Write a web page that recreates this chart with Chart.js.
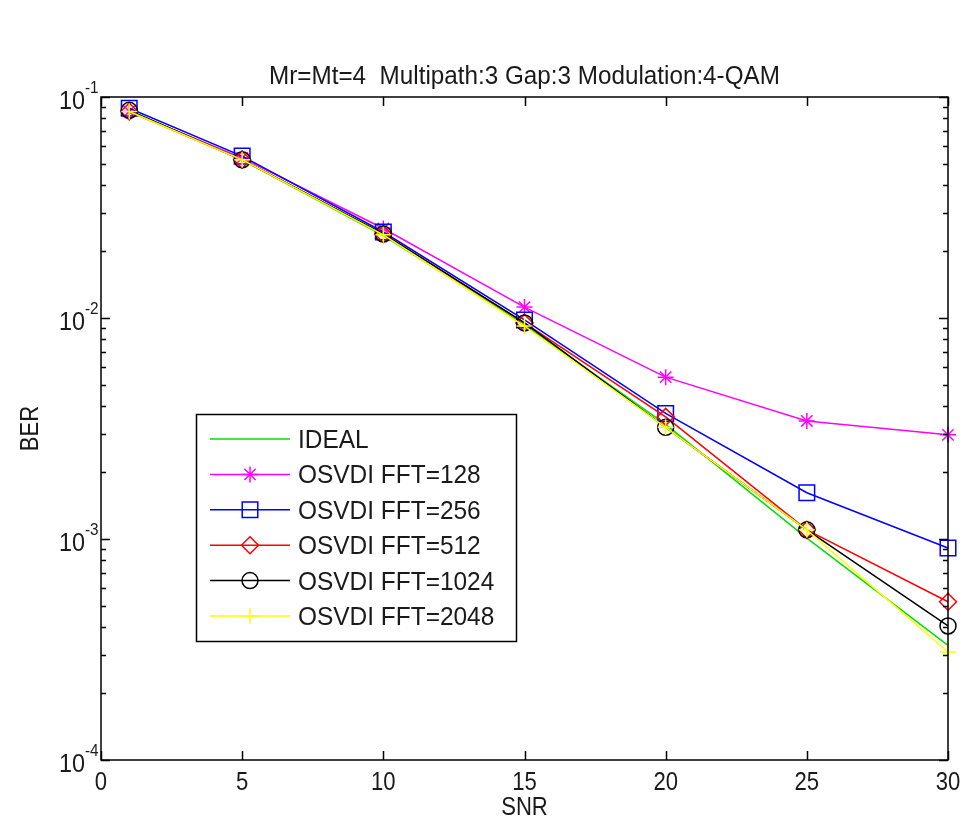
<!DOCTYPE html>
<html><head><meta charset="utf-8">
<script src="https://cdn.jsdelivr.net/npm/chart.js@4"></script>
<style>html,body{margin:0;padding:0;background:#fff;}canvas{display:block}</style>
</head><body>
<canvas id="c" width="963" height="824"></canvas>
<script>
// ---- data ----
const snr = [1, 5, 10, 15, 20, 25, 30];
const seriesNames = ['IDEAL', 'OSVDI FFT=128', 'OSVDI FFT=256', 'OSVDI FFT=512', 'OSVDI FFT=1024', 'OSVDI FFT=2048'];
const berIdeal   = [0.087, 0.052, 0.0236, 0.0093, 0.0033, 0.00101, 0.00033];
const berFft128  = [0.086, 0.053, 0.0254, 0.0112, 0.0054, 0.00342, 0.00296];
const berFft256  = [0.089, 0.054, 0.0245, 0.0098, 0.0037, 0.00162, 0.00091];
const berFft512  = [0.086, 0.052, 0.0240, 0.0095, 0.00357, 0.0011, 0.00052];
const berFft1024 = [0.087, 0.052, 0.0240, 0.0095, 0.0032, 0.0011, 0.000404];
const berFft2048 = [0.086, 0.052, 0.0238, 0.0092, 0.0032, 0.0011, 0.000308];
const xTickValues = [0, 5, 10, 15, 20, 25, 30];
const yTickValues = [1e-4, 1e-3, 1e-2, 1e-1];
const yTickExponents = ['-4', '-3', '-2', '-1'];
const chartTitle = 'Mr=Mt=4  Multipath:3 Gap:3 Modulation:4-QAM';
const xAxisTitle = 'SNR';
const yAxisTitle = 'BER';

const allSeries = [berIdeal, berFft128, berFft256, berFft512, berFft1024, berFft2048];
const colors = ['#00e000', '#ff00ff', '#0000ff', '#ff0000', '#000000', '#ffff00'];
const styles = [false, 'star', 'rect', 'rectRot', 'circle', 'cross'];
const radii = [0, 8, 11, 8.5, 8, 8];

const datasets = allSeries.map((vals, i) => ({
  label: seriesNames[i],
  data: snr.map((x, j) => ({x: x, y: vals[j]})),
  borderColor: colors[i],
  borderWidth: 1.5,
  pointStyle: styles[i],
  pointRadius: radii[i],
  pointBorderColor: colors[i],
  pointBackgroundColor: 'rgba(0,0,0,0)',
  pointBorderWidth: 1.5,
  tension: 0,
  clip: false,
  order: allSeries.length - i
}));

const FONT = '"Liberation Sans", Arial, sans-serif';
const TXT = '#1a1a1a';
function txt(ctx, s, x, y, size, align, sx, baseline) {
  ctx.save();
  ctx.font = size + 'px ' + FONT;
  ctx.fillStyle = TXT;
  ctx.translate(x, y);
  ctx.scale(sx, 1);
  ctx.textAlign = align;
  ctx.textBaseline = baseline || 'alphabetic';
  ctx.fillText(s, 0, 0);
  ctx.restore();
}

function drawMarker(ctx, style, r, color, x, y) {
  if (!style) return;
  ctx.save();
  ctx.strokeStyle = color;
  ctx.fillStyle = 'rgba(0,0,0,0)';
  ctx.lineWidth = 1.5;
  Chart.helpers.drawPoint(ctx, {pointStyle: style, radius: r, borderWidth: 1.5, rotation: 0}, x, y);
  ctx.restore();
}

const decor = {
  id: 'decor',
  afterDraw(chart) {
    const ctx = chart.ctx;
    const xs = chart.scales.x, ys = chart.scales.y;
    const a = chart.chartArea;
    ctx.save();
    ctx.strokeStyle = '#000';
    ctx.lineWidth = 1.5;
    ctx.strokeRect(a.left, a.top, a.right - a.left, a.bottom - a.top);
    ctx.beginPath();
    // x ticks
    xTickValues.forEach(v => {
      const px = Math.round(xs.getPixelForValue(v)) + 0.5;
      ctx.moveTo(px, a.bottom); ctx.lineTo(px, a.bottom - 9);
      ctx.moveTo(px, a.top); ctx.lineTo(px, a.top + 9);
    });
    // y major and minor ticks
    yTickValues.forEach((v, k) => {
      const py = Math.round(ys.getPixelForValue(v)) + 0.5;
      ctx.moveTo(a.left, py); ctx.lineTo(a.left + 9, py);
      ctx.moveTo(a.right, py); ctx.lineTo(a.right - 9, py);
      if (k < yTickValues.length - 1) {
        for (let m = 2; m <= 9; m++) {
          const pm = Math.round(ys.getPixelForValue(m * v)) + 0.5;
          ctx.moveTo(a.left, pm); ctx.lineTo(a.left + 5, pm);
          ctx.moveTo(a.right, pm); ctx.lineTo(a.right - 5, pm);
        }
      }
    });
    ctx.stroke();
    ctx.restore();

    // tick labels
    xTickValues.forEach(v => {
      txt(ctx, String(v), xs.getPixelForValue(v), 790, 26, 'center', 0.85);
    });
    yTickValues.forEach((v, k) => {
      const py = ys.getPixelForValue(v);
      txt(ctx, '10', 85, py + 12, 26, 'right', 0.9);
      txt(ctx, yTickExponents[k], 85, py - 4, 17, 'left', 0.9);
    });
    // titles
    txt(ctx, chartTitle, (a.left + a.right) / 2, 84, 25, 'center', 0.97);
    txt(ctx, xAxisTitle, (a.left + a.right) / 2, 815, 26, 'center', 0.85);
    ctx.save();
    ctx.translate(38, (a.top + a.bottom) / 2);
    ctx.rotate(-Math.PI / 2);
    txt(ctx, yAxisTitle, 0, 0, 26, 'center', 0.85);
    ctx.restore();

    // legend
    const lx = 196, ly = 414, lw = 320, lh = 227;
    ctx.save();
    ctx.fillStyle = '#fff';
    ctx.fillRect(lx, ly, lw, lh);
    ctx.strokeStyle = '#000';
    ctx.lineWidth = 1.5;
    ctx.strokeRect(lx + 0.5, ly + 0.5, lw, lh);
    ctx.restore();
    chart.data.datasets.forEach((ds, i) => {
      const ry = 439 + i * 35.4;
      ctx.save();
      ctx.strokeStyle = ds.borderColor;
      ctx.lineWidth = 1.5;
      ctx.beginPath();
      ctx.moveTo(210, ry); ctx.lineTo(290, ry);
      ctx.stroke();
      ctx.restore();
      drawMarker(ctx, ds.pointStyle, ds.pointRadius, ds.borderColor, 250, ry);
      txt(ctx, ds.label, 298, ry + 9, 26, 'left', 0.94);
    });
  }
};

new Chart(document.getElementById('c'), {
  type: 'line',
  data: {datasets: datasets},
  options: {
    responsive: false,
    animation: false,
    layout: {padding: {left: 101, right: 15, top: 97, bottom: 64}},
    plugins: {legend: {display: false}, title: {display: false}, tooltip: {enabled: false}},
    scales: {
      x: {type: 'linear', min: 0, max: 30,
          ticks: {display: false}, grid: {display: false, drawTicks: false}, border: {display: false}},
      y: {type: 'logarithmic', min: 1e-4, max: 1e-1,
          ticks: {display: false}, grid: {display: false, drawTicks: false}, border: {display: false}}
    }
  },
  plugins: [decor]
});
</script>
</body></html>
